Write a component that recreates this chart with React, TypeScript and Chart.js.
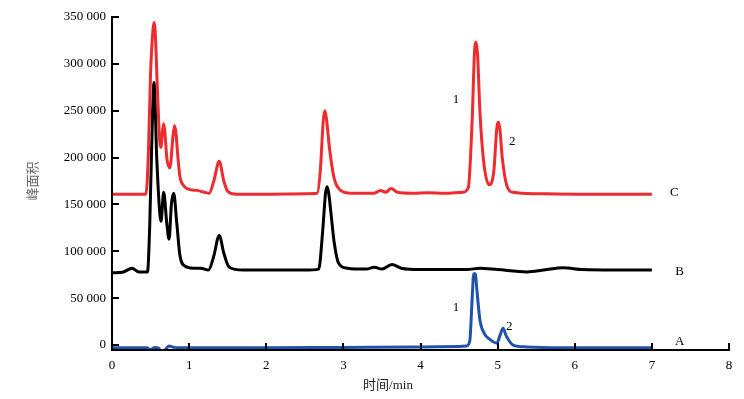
import React, { useEffect, useRef } from "react";
import { Chart, registerables } from "chart.js";

Chart.register(...registerables);

// Retention time (min) and peak area values
const seriesCX = [0, 0.44, 0.47, 0.5, 0.53, 0.545, 0.56, 0.59, 0.62, 0.635, 0.655, 0.67, 0.685, 0.71, 0.75, 0.79, 0.81, 0.83, 0.85, 0.88, 0.93, 1.0, 1.1, 1.2, 1.26, 1.32, 1.39, 1.45, 1.5, 1.6, 2.0, 2.5, 2.66, 2.7, 2.74, 2.76, 2.78, 2.82, 2.88, 2.95, 3.1, 3.4, 3.48, 3.55, 3.62, 3.7, 3.9, 4.1, 4.3, 4.55, 4.62, 4.67, 4.7, 4.72, 4.74, 4.77, 4.82, 4.89, 4.95, 4.99, 5.01, 5.03, 5.06, 5.12, 5.2, 5.5, 6.0, 7.0];
const seriesCY = [161000, 161000, 200000, 290000, 335000, 344000, 335000, 270000, 216000, 211000, 228000, 236000, 228000, 200000, 189000, 222000, 234000, 226000, 205000, 180000, 170000, 166000, 165000, 163000, 162000, 175000, 196000, 175000, 164000, 161000, 161000, 161500, 162000, 185000, 240000, 250000, 242000, 210000, 178000, 166000, 162000, 162000, 165000, 163000, 167000, 163000, 162000, 162500, 162000, 163000, 168000, 240000, 312000, 323000, 310000, 250000, 195000, 171000, 185000, 232000, 238000, 230000, 200000, 170000, 163000, 161500, 161000, 161000];

const seriesBX = [0, 0.15, 0.26, 0.35, 0.46, 0.49, 0.52, 0.545, 0.58, 0.62, 0.635, 0.67, 0.71, 0.74, 0.77, 0.8, 0.84, 0.88, 0.95, 1.05, 1.15, 1.25, 1.32, 1.39, 1.45, 1.52, 1.7, 2.0, 2.5, 2.68, 2.73, 2.77, 2.79, 2.81, 2.84, 2.88, 2.94, 3.05, 3.3, 3.4, 3.5, 3.63, 3.75, 4.0, 4.3, 4.6, 4.77, 5.0, 5.38, 5.6, 5.85, 6.1, 6.5, 7.0];
const seriesBY = [77000, 78000, 82000, 78000, 78000, 130000, 230000, 280000, 200000, 140000, 132000, 163000, 130000, 113000, 150000, 162000, 130000, 96000, 84000, 82000, 82000, 80000, 95000, 117000, 98000, 83000, 80000, 80000, 80000, 81000, 120000, 163000, 169000, 162000, 140000, 110000, 87000, 82000, 81000, 83000, 81000, 86000, 82000, 80500, 80500, 80500, 82000, 80500, 78000, 80000, 82500, 80500, 80000, 80000];

const seriesAX = [0, 0.45, 0.5, 0.55, 0.6, 0.66, 0.7, 0.74, 0.8, 1.0, 2.0, 3.0, 4.0, 4.5, 4.6, 4.64, 4.67, 4.69, 4.71, 4.73, 4.77, 4.83, 4.9, 4.99, 5.03, 5.07, 5.11, 5.2, 5.38, 6.0, 7.0];
const seriesAY = [-3000, -3000, -5000, -2500, -3000, -9500, -4000, -1000, -2500, -3000, -3000, -2500, -2000, -1500, -1000, 5000, 50000, 76000, 76000, 60000, 27000, 12000, 6000, 2000, 10000, 18000, 10000, 0, -2000, -3000, -3000];

const xTicks = [0, 1, 2, 3, 4, 5, 6, 7, 8];
const yTicks = [0, 50000, 100000, 150000, 200000, 250000, 300000, 350000];

const xTitle = "时间/min";
const yTitle = "峰面积";

// annotation labels: [text, x (min), y (area)]
const labelTexts = ["1", "2", "C", "B", "A", "1", "2"];
const labelX = [4.46, 5.19, 7.29, 7.36, 7.36, 4.46, 5.15];
const labelY = [262000, 217000, 163000, 78000, 3500, 40000, 20000];

const fmt = (v: number) => {
  const s = String(Math.round(v));
  return s.replace(/\B(?=(\d{3})+(?!\d))/g, " ");
};

const toPts = (xs: number[], ys: number[]) => xs.map((x, i) => ({ x, y: ys[i] }));

export default function App() {
  const ref = useRef<HTMLCanvasElement | null>(null);

  useEffect(() => {
    if (!ref.current) return;
    const serif = "'Liberation Serif', 'Times New Roman', serif";
    const cjk = "'Liberation Serif', 'Noto Sans CJK SC', serif";

    const overlay = {
      id: "overlay",
      afterDraw(chart: any) {
        const ctx = chart.ctx;
        const xs = chart.scales.x;
        const ys = chart.scales.y;
        const area = chart.chartArea;
        ctx.save();
        ctx.strokeStyle = "#000";
        ctx.lineWidth = 2;
        // axes lines
        ctx.beginPath();
        ctx.moveTo(area.left, ys.getPixelForValue(350000) - 1);
        ctx.lineTo(area.left, area.bottom);
        ctx.lineTo(xs.getPixelForValue(8) + 1, area.bottom);
        ctx.stroke();
        // inward ticks
        ctx.beginPath();
        yTicks.forEach((t) => {
          const py = Math.round(ys.getPixelForValue(t));
          ctx.moveTo(area.left, py);
          ctx.lineTo(area.left + 7, py);
        });
        xTicks.forEach((t) => {
          const px = Math.round(xs.getPixelForValue(t));
          ctx.moveTo(px, area.bottom);
          ctx.lineTo(px, area.bottom - 7);
        });
        ctx.stroke();
        // annotations
        ctx.fillStyle = "#000";
        ctx.font = `13px ${serif}`;
        ctx.textAlign = "center";
        ctx.textBaseline = "middle";
        labelTexts.forEach((t, i) => {
          ctx.fillText(t, xs.getPixelForValue(labelX[i]), ys.getPixelForValue(labelY[i]));
        });
        // x title
        ctx.font = `13px ${cjk}`;
        ctx.fillStyle = "#222";
        ctx.fillText(xTitle, 388, 386);
        // y title
        ctx.translate(32, 181);
        ctx.rotate(-Math.PI / 2);
        ctx.fillStyle = "#666";
        ctx.font = `13px 'Noto Sans CJK SC', serif`;
        ctx.fillText(yTitle, 0, 0);
        ctx.restore();
      },
    };

    const chart = new Chart(ref.current, {
      type: "line",
      data: {
        datasets: [
          {
            label: "C",
            data: toPts(seriesCX, seriesCY),
            borderColor: "#ee2b2f",
            borderWidth: 3,
            pointRadius: 0,
            cubicInterpolationMode: "monotone",
            fill: false,
          },
          {
            label: "B",
            data: toPts(seriesBX, seriesBY),
            borderColor: "#000000",
            borderWidth: 3,
            pointRadius: 0,
            cubicInterpolationMode: "monotone",
            fill: false,
          },
          {
            label: "A",
            data: toPts(seriesAX, seriesAY),
            borderColor: "#1f52ad",
            borderWidth: 3,
            pointRadius: 0,
            cubicInterpolationMode: "monotone",
            fill: false,
          },
        ],
      },
      options: {
        animation: false,
        responsive: false,
        maintainAspectRatio: false,
        layout: { padding: { left: 0, top: 17, right: 15, bottom: 0 } },
        plugins: { legend: { display: false }, tooltip: { enabled: false } },
        scales: {
          x: {
            type: "linear",
            min: 0,
            max: 8,
            afterBuildTicks: (s: any) => {
              s.ticks = xTicks.map((v) => ({ value: v }));
            },
            afterFit: (s: any) => {
              s.height = 49;
            },
            grid: { display: false, drawTicks: false },
            border: { display: false },
            ticks: {
              padding: 8,
              color: "#000",
              font: { family: serif, size: 13 },
              maxRotation: 0,
              autoSkip: false,
            },
          },
          y: {
            type: "linear",
            min: -5300,
            max: 350000,
            afterBuildTicks: (s: any) => {
              s.ticks = yTicks.map((v) => ({ value: v }));
            },
            afterFit: (s: any) => {
              s.width = 112;
            },
            grid: { display: false, drawTicks: false },
            border: { display: false },
            ticks: {
              padding: 6,
              color: "#000",
              font: { family: serif, size: 13 },
              callback: (v: any) => fmt(Number(v)),
              autoSkip: false,
            },
          },
        },
      },
      plugins: [overlay],
    } as any);
    return () => chart.destroy();
  }, []);

  return (
    <div style={{ position: "fixed", left: 0, top: 0, width: 744, height: 399, background: "#fff" }}>
      <canvas ref={ref} width={744} height={399} style={{ width: 744, height: 399, display: "block" }} />
    </div>
  );
}
